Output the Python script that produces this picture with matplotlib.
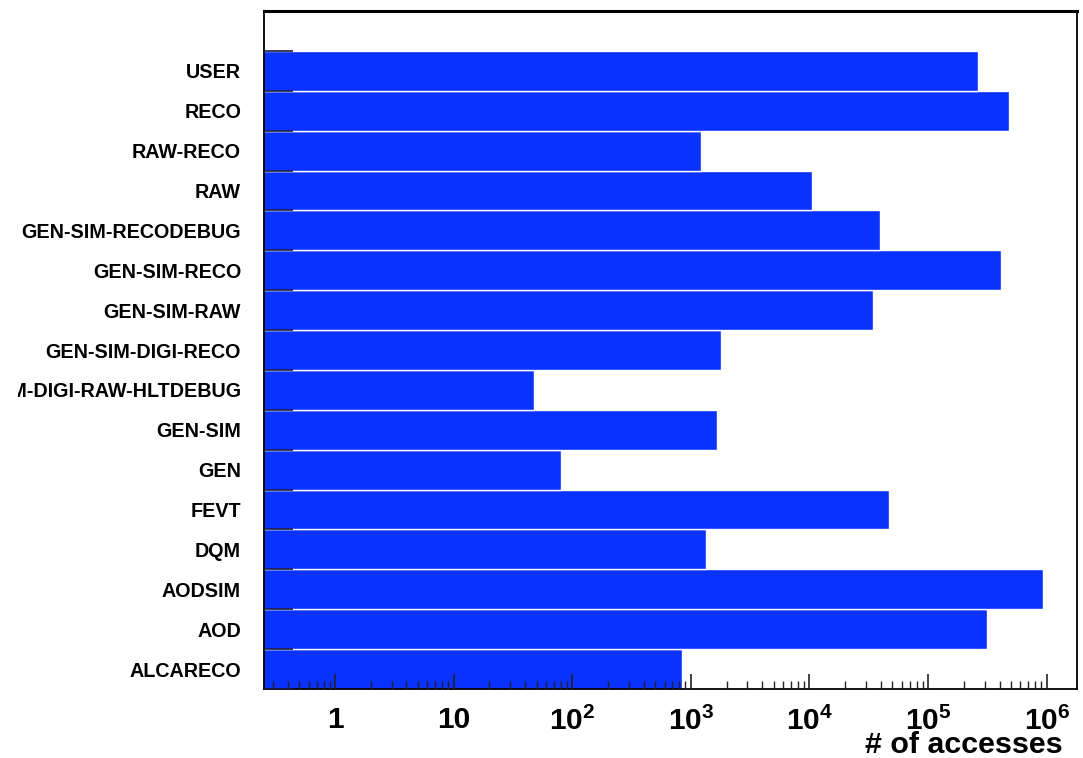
import numpy as np
import matplotlib
matplotlib.use('Agg')
from matplotlib import pyplot as plt
from matplotlib.ticker import LogLocator, FixedLocator, NullFormatter
from matplotlib.transforms import Bbox

plt.rcParams['font.family'] = ['Liberation Sans', 'DejaVu Sans']
plt.rcParams['font.weight'] = 'bold'
plt.rcParams['mathtext.fontset'] = 'custom'
plt.rcParams['mathtext.rm'] = 'Liberation Sans:bold'
plt.rcParams['mathtext.it'] = 'Liberation Sans:bold'
plt.rcParams['mathtext.bf'] = 'Liberation Sans:bold'

# data tiers, bottom to top
tiers = ['ALCARECO', 'AOD', 'AODSIM', 'DQM', 'FEVT', 'GEN', 'GEN-SIM',
         'GEN-SIM-DIGI-RAW-HLTDEBUG', 'GEN-SIM-DIGI-RECO', 'GEN-SIM-RAW',
         'GEN-SIM-RECO', 'GEN-SIM-RECODEBUG', 'RAW', 'RAW-RECO', 'RECO', 'USER']
accesses = [840, 3.15e5, 9.3e5, 1340, 4.7e4, 80, 1660,
            48, 1800, 3.4e4,
            4.15e5, 3.95e4, 1.05e4, 1220, 4.8e5, 2.66e5]

xtick_vals = [1, 10, 1e2, 1e3, 1e4, 1e5, 1e6]
xtick_labels = ['1', '10', '$10^{2}$', '$10^{3}$', '$10^{4}$', '$10^{5}$', '$10^{6}$']

fig = plt.figure(figsize=(10.83, 7.58), dpi=100)
ax = fig.add_axes([264 / 1083, 69 / 758, 813 / 1083, 678 / 758])

n = len(tiers)
y = np.arange(n)
ax.barh(y, accesses, height=1.0, left=1e-2, align='edge',
        color='#0a32ff', edgecolor='white', linewidth=1.0, zorder=1)

ax.set_xscale('log')
ax.set_xlim(0.252, 1.8e6)
ax.set_ylim(0, n + 1)

# x axis
ax.xaxis.set_major_locator(FixedLocator(xtick_vals))
ax.set_xticklabels(xtick_labels, fontsize=21.5, fontweight='bold')
ax.xaxis.set_minor_locator(LogLocator(base=10, subs=np.arange(2, 10), numticks=20))
ax.xaxis.set_minor_formatter(NullFormatter())
ax.tick_params(axis='x', which='major', direction='in', length=11, width=1.2,
               color='#222222', pad=12.5)
ax.tick_params(axis='x', which='minor', direction='in', length=5.5, width=1.0,
               color='#222222')

# y axis: boundary ticks + centred labels
ax.set_yticks(np.arange(n + 1))
ax.set_yticklabels([])
ax.tick_params(axis='y', which='major', direction='in', length=21, width=1.2,
               color='#1a1a40')
ax.set_yticks(y + 0.5, tiers, minor=True)
ax.tick_params(axis='y', which='minor', length=0, pad=16.5, labelsize=14.2)

# the long labels get cut at the left edge of the pad
clip = Bbox.from_extents(18, 0, 1083, 758)
for lbl in ax.get_yticklabels(minor=True):
    lbl.set_fontweight('bold')
    lbl.set_clip_box(clip)
    lbl.set_clip_on(True)
for lbl in ax.get_xticklabels():
    lbl.set_fontweight('bold')

ax.set_axisbelow(False)
for side in ['left', 'right', 'bottom']:
    ax.spines[side].set_linewidth(1.3)
ax.spines['top'].set_linewidth(2.2)

fig.text(1063 / 1083, 5 / 758, '# of accesses', ha='right', va='baseline',
         fontsize=21.9, fontweight='bold')

plt.savefig('out.png', dpi=100)
